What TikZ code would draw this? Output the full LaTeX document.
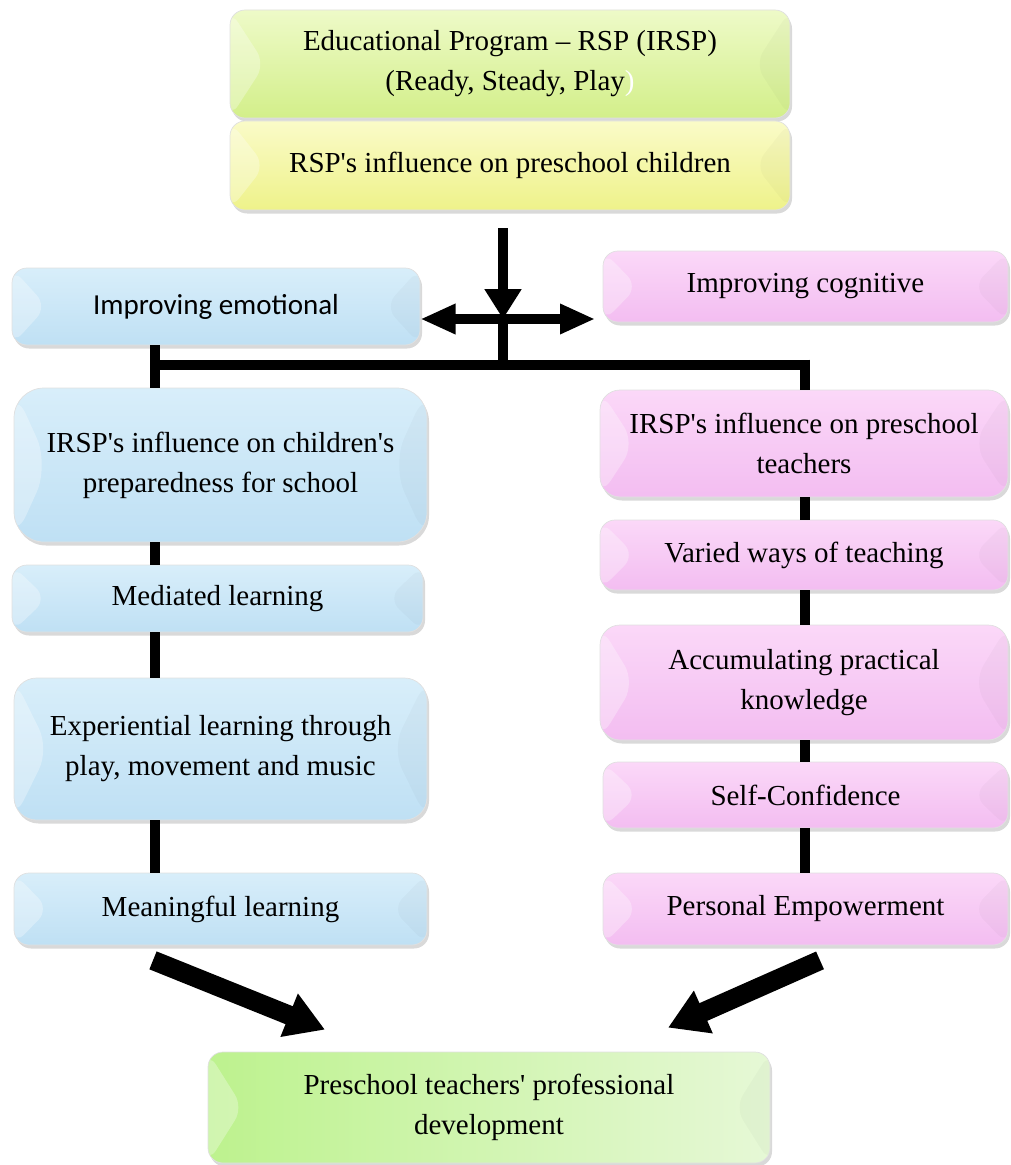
\documentclass[tikz,border=0pt]{standalone}
\usepackage{fontspec}
\setmainfont{Liberation Serif}
\newfontfamily\calibrifont{Carlito}
\usetikzlibrary{arrows.meta,shadows}

\newcommand{\ap}{\textquotesingle}

\definecolor{blueTop}{HTML}{D8EEFA}
\definecolor{blueBot}{HTML}{BFE0F4}
\definecolor{pinkTop}{HTML}{FBD8F8}
\definecolor{pinkBot}{HTML}{F3BDF1}
\definecolor{limeTop}{HTML}{EEFAC8}
\definecolor{limeBot}{HTML}{D3EF8A}
\definecolor{yelTop}{HTML}{FAFBC8}
\definecolor{yelBot}{HTML}{EEF28A}
\definecolor{grnLeft}{HTML}{BDF28E}
\definecolor{grnRight}{HTML}{E6F8D6}

\tikzset{
  stage/.style={draw=black!12, line width=0.4pt, rounded corners=0.3cm,
    align=center, inner sep=0pt, font=\fontsize{16.5}{22.8}\selectfont,
    drop shadow={opacity=0.3, shadow xshift=0.04cm, shadow yshift=-0.07cm},
    path picture={
      \fill[white, opacity=0.3] (path picture bounding box.north west)
        -- ([xshift=0.7cm]path picture bounding box.west)
        -- (path picture bounding box.south west) -- cycle;
      \fill[black, opacity=0.025] (path picture bounding box.north east)
        -- ([xshift=-0.7cm]path picture bounding box.east)
        -- (path picture bounding box.south east) -- cycle;
    }},
  bluestage/.style={stage, top color=blueTop, bottom color=blueBot},
  pinkstage/.style={stage, top color=pinkTop, bottom color=pinkBot},
  limestage/.style={stage, top color=limeTop, bottom color=limeBot},
  yelstage/.style={stage, top color=yelTop, bottom color=yelBot},
  grnstage/.style={stage, left color=grnLeft, right color=grnRight},
  link/.style={line width=6.2pt},
  fattip/.style={line width=11pt, -{Triangle[length=22pt,width=25pt]}},
}

\begin{document}
\begin{tikzpicture}
  \useasboundingbox (0,0) rectangle (20.2,-23.3);

  % Program
  \node[limestage, minimum width=11.2cm, minimum height=2.16cm] (prog) at (10.2,-1.28)
    {Educational Program – RSP (IRSP)\\(Ready, Steady, Play{\color{white})}};
  \node[yelstage, minimum width=11.2cm, minimum height=1.78cm] (rspkids) at (10.2,-3.31)
    {RSP\ap s influence on preschool children};

  \node[bluestage, minimum width=8.16cm, minimum height=1.54cm] (emot) at (4.32,-6.13)
    {\calibrifont Improving emotional};
  \node[pinkstage, minimum width=8.1cm, minimum height=1.42cm] (cogn) at (16.11,-5.73)
    {Improving cognitive};

  % Children
  \node[bluestage, rounded corners=0.6cm, minimum width=8.26cm, minimum height=3.08cm] (prep) at (4.41,-9.3)
    {IRSP\ap s influence on children\ap s\\preparedness for school};
  \node[bluestage, minimum width=8.22cm, minimum height=1.34cm] (mediated) at (4.35,-11.97)
    {Mediated learning};
  \node[bluestage, rounded corners=0.45cm, minimum width=8.26cm, minimum height=2.84cm] (experiential) at (4.41,-14.98)
    {Experiential learning through\\play, movement and music};
  \node[bluestage, minimum width=8.26cm, minimum height=1.44cm] (meaningful) at (4.41,-18.18)
    {Meaningful learning};

  % Teachers
  \node[pinkstage, rounded corners=0.4cm, minimum width=8.16cm, minimum height=2.14cm] (teachers) at (16.08,-8.87)
    {IRSP\ap s influence on preschool\\teachers};
  \node[pinkstage, minimum width=8.16cm, minimum height=1.4cm] (varied) at (16.08,-11.1)
    {Varied ways of teaching};
  \node[pinkstage, rounded corners=0.4cm, minimum width=8.16cm, minimum height=2.3cm] (accum) at (16.08,-13.65)
    {Accumulating practical\\knowledge};
  \node[pinkstage, minimum width=8.1cm, minimum height=1.32cm] (selfconf) at (16.11,-15.9)
    {Self-Confidence};
  \node[pinkstage, minimum width=8.1cm, minimum height=1.44cm] (empower) at (16.11,-18.18)
    {Personal Empowerment};

  \node[grnstage, minimum width=11.24cm, minimum height=2.22cm] (profdev) at (9.78,-22.15)
    {Preschool teachers\ap\ professional\\development};

  % Connectors
  \coordinate (hub) at (10.06,-6.38);
  \coordinate (fork) at (10.06,-7.3);
  \coordinate (lcol) at (3.1,0);
  \coordinate (rcol) at (16.1,0);

  \draw[link, -{Triangle[length=17pt,width=20pt]}]
    ([xshift=-0.14cm,yshift=-0.36cm]rspkids.south) -- (hub);
  \draw[link, {Triangle[length=20pt,width=16pt]}-{Triangle[length=20pt,width=16pt]}]
    (emot.east |- hub) -- ([xshift=-0.15cm]cogn.west |- hub);
  \draw[link] (hub) -- (fork);
  \draw[link] (lcol |- fork) -- (rcol |- fork);
  \draw[link] (emot.south -| lcol) -- (prep.north -| lcol);
  \draw[link] ([yshift=3pt]rcol |- fork) -- (teachers.north -| rcol);

  \draw[link] (prep.south -| lcol) -- (mediated.north -| lcol);
  \draw[link] (mediated.south -| lcol) -- (experiential.north -| lcol);
  \draw[link] (experiential.south -| lcol) -- (meaningful.north -| lcol);

  \draw[link] (teachers.south -| rcol) -- (varied.north -| rcol);
  \draw[link] (varied.south -| rcol) -- (accum.north -| rcol);
  \draw[link] (accum.south -| rcol) -- (selfconf.north -| rcol);
  \draw[link] (selfconf.south -| rcol) -- (empower.north -| rcol);

  \draw[fattip] ([xshift=-1.35cm,yshift=-0.3cm]meaningful.south)
    -- ([xshift=-3.28cm,yshift=0.44cm]profdev.north);
  \draw[fattip] ([xshift=0.29cm,yshift=-0.3cm]empower.south)
    -- ([xshift=3.58cm,yshift=0.48cm]profdev.north);
\end{tikzpicture}
\end{document}
